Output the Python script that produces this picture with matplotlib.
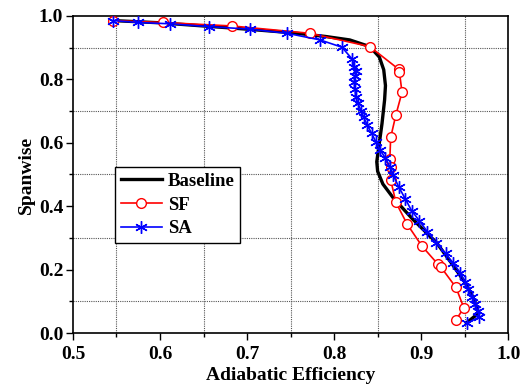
import numpy as np
import matplotlib
matplotlib.use('Agg')
import matplotlib.pyplot as plt
from matplotlib.ticker import MultipleLocator, FormatStrFormatter

plt.rcParams['font.family'] = ['Liberation Serif', 'DejaVu Serif']
plt.rcParams['font.weight'] = 'bold'

# Baseline (solid black line)
base_x = [0.546, 0.600, 0.650, 0.700, 0.750, 0.790, 0.818, 0.841, 0.852, 0.857, 0.859,
          0.858, 0.855, 0.852, 0.849, 0.850, 0.856, 0.868, 0.890, 0.918, 0.935, 0.951,
          0.960, 0.966, 0.952]
base_y = [0.985, 0.978, 0.968, 0.958, 0.947, 0.935, 0.924, 0.903, 0.870, 0.830, 0.780,
          0.735, 0.660, 0.600, 0.540, 0.510, 0.470, 0.426, 0.360, 0.284, 0.220, 0.157,
          0.110, 0.063, 0.032]

# SF (red open circles)
sf_x = [0.546, 0.603, 0.683, 0.772, 0.841, 0.874, 0.875, 0.878, 0.871, 0.865, 0.864,
        0.865, 0.865, 0.871, 0.884, 0.901, 0.919, 0.923, 0.940, 0.949, 0.940]
sf_y = [0.985, 0.979, 0.968, 0.945, 0.903, 0.832, 0.824, 0.759, 0.688, 0.617, 0.548,
        0.525, 0.483, 0.412, 0.343, 0.274, 0.218, 0.207, 0.144, 0.080, 0.041]

# SA (blue asterisks)
sa_x = [0.546, 0.575, 0.611, 0.656, 0.703, 0.746, 0.784, 0.809, 0.821, 0.823, 0.825,
        0.824, 0.823, 0.824, 0.825, 0.827, 0.831, 0.834, 0.838, 0.843, 0.848, 0.853,
        0.859, 0.864, 0.868, 0.874, 0.882, 0.889, 0.898, 0.907, 0.917, 0.928, 0.937,
        0.945, 0.950, 0.954, 0.958, 0.962, 0.965, 0.967, 0.953]
sa_y = [0.985, 0.979, 0.975, 0.966, 0.958, 0.945, 0.924, 0.901, 0.863, 0.840, 0.827,
        0.810, 0.790, 0.769, 0.745, 0.725, 0.701, 0.680, 0.656, 0.630, 0.603, 0.577,
        0.551, 0.525, 0.498, 0.462, 0.422, 0.386, 0.354, 0.320, 0.285, 0.251, 0.220,
        0.190, 0.162, 0.138, 0.115, 0.091, 0.070, 0.051, 0.032]

fig = plt.figure(figsize=(5.25, 3.86), dpi=100)
ax = fig.add_axes([0.139, 0.137, 0.829, 0.822])

ax.plot(base_x, base_y, color='black', lw=2.4, label='Baseline', zorder=3)
ax.plot(sf_x, sf_y, color='red', lw=1.2, marker='o', ms=7, mfc='white', mec='red',
        mew=1.0, label='SF', zorder=4)
ax.plot(sa_x, sa_y, color='blue', lw=1.2, marker=(6, 2, 0), ms=9, mec='blue',
        mew=1.0, label='SA', zorder=5)

ax.set_xlim(0.5, 1.0)
ax.set_ylim(0.0, 1.0)
ax.xaxis.set_major_locator(MultipleLocator(0.1))
ax.xaxis.set_minor_locator(MultipleLocator(0.05))
ax.yaxis.set_major_locator(MultipleLocator(0.2))
ax.yaxis.set_minor_locator(MultipleLocator(0.1))
ax.xaxis.set_major_formatter(FormatStrFormatter('%.1f'))
ax.yaxis.set_major_formatter(FormatStrFormatter('%.1f'))
ax.grid(which='minor', color='#555555', ls=(0, (1, 1)), lw=0.8)
ax.tick_params(which='major', direction='out', length=5, width=1, labelsize=14)
ax.tick_params(axis='x', which='major', pad=4)
ax.tick_params(axis='y', which='major', pad=2)
ax.tick_params(which='minor', direction='out', length=3, width=1)
for s in ax.spines.values():
    s.set_linewidth(1.2)

ax.set_xlabel('Adiabatic Efficiency', fontsize=14, fontweight='bold', labelpad=3)
ax.set_ylabel('Spanwise', fontsize=14, fontweight='bold', labelpad=3)

leg = ax.legend(loc='lower left', bbox_to_anchor=(0.097, 0.284), fontsize=13.5,
                frameon=True, fancybox=False, edgecolor='black', handlelength=2.2,
                borderpad=0.3, labelspacing=0.35, handletextpad=0.3, borderaxespad=0)
leg.get_frame().set_linewidth(1.0)
leg.get_frame().set_alpha(1.0)

fig.savefig('out.png', dpi=100)
